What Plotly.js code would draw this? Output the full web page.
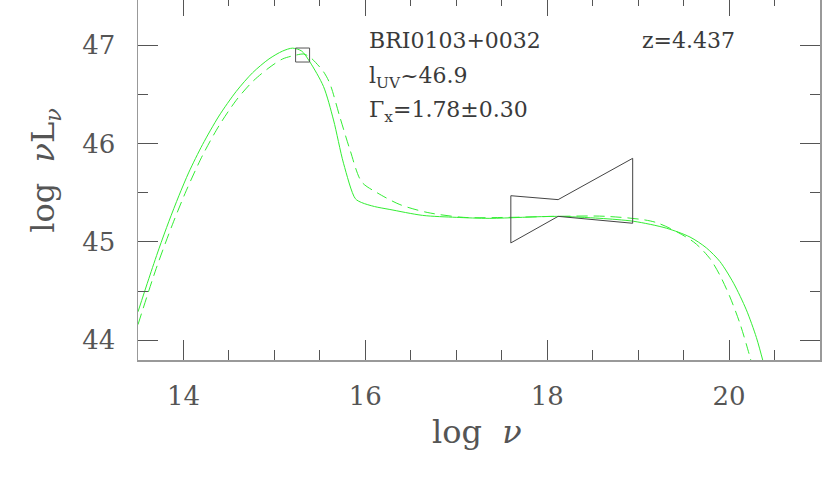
<!DOCTYPE html>
<html><head><meta charset="utf-8">
<script src="https://cdn.plot.ly/plotly-3.0.1.min.js"></script>
<style>html,body{margin:0;padding:0;background:#fff;overflow:hidden}#c{position:absolute;left:0;top:-4px;width:830px;height:502px}</style>
</head><body><div id="c"></div>
<script>
// Solid model SED
const solidX = [13.5, 13.62, 13.73, 13.84, 13.95, 14.06, 14.21, 14.39, 14.58, 14.76, 14.94, 15.09, 15.2, 15.3, 15.39, 15.54, 15.65, 15.76, 15.89, 15.96, 16.1, 16.27, 16.63, 17.0, 17.37, 18.1, 18.58, 18.95, 19.31, 19.57, 19.75, 19.9, 20.05, 20.19, 20.3, 20.37, 20.43];
const solidY = [44.29, 44.63, 44.93, 45.21, 45.47, 45.71, 45.99, 46.28, 46.53, 46.72, 46.86, 46.94, 46.97, 46.94, 46.83, 46.58, 46.24, 45.80, 45.44, 45.40, 45.36, 45.33, 45.27, 45.25, 45.24, 45.26, 45.24, 45.21, 45.14, 45.05, 44.94, 44.80, 44.58, 44.31, 44.03, 43.80, 43.6];
// Dashed model SED
const dashX = [13.5, 13.70, 13.88, 14.03, 14.21, 14.39, 14.58, 14.76, 14.94, 15.09, 15.24, 15.32, 15.39, 15.54, 15.61, 15.72, 15.83, 15.96, 16.13, 16.38, 16.68, 17.08, 17.6, 18.1, 18.65, 19.19, 19.61, 19.79, 19.9, 20.01, 20.12, 20.23, 20.28];
const dashY = [44.16, 44.73, 45.18, 45.52, 45.88, 46.18, 46.44, 46.63, 46.77, 46.86, 46.90, 46.91, 46.88, 46.73, 46.61, 46.27, 45.94, 45.61, 45.50, 45.38, 45.30, 45.25, 45.25, 45.26, 45.26, 45.20, 45.00, 44.83, 44.66, 44.44, 44.17, 43.83, 43.65];
// X-ray bowtie
const bowX = [17.6, 18.12, 18.94, 18.94, 18.12, 17.6, 17.6];
const bowY = [45.47, 45.43, 45.85, 45.19, 45.26, 44.99, 45.47];
// UV point
const uvX = [15.31];
const uvY = [46.90];
// Labels
const labels = [
  {x: 16.02, y: 47.045, t: 'BRI0103+0032'},
  {x: 19.02, y: 47.045, t: 'z=4.437'},
  {x: 16.02, y: 46.67, t: 'l<sub>UV</sub>~46.9'},
  {x: 16.02, y: 46.33, t: 'Γ<sub>x</sub>=1.78±0.30'}
];

const F = 'DejaVu Serif, Liberation Serif, serif';
const green = '#33ee33';
const traces = [
  {x: solidX, y: solidY, mode: 'lines', line: {color: green, width: 1, shape: 'spline', smoothing: 0.8}, hoverinfo: 'skip'},
  {x: dashX, y: dashY, mode: 'lines', line: {color: green, width: 1, dash: '11px,6px', shape: 'spline', smoothing: 0.8}, hoverinfo: 'skip'},
  {x: bowX, y: bowY, mode: 'lines', line: {color: '#444', width: 1}, hoverinfo: 'skip'},
  {x: uvX, y: uvY, mode: 'markers', marker: {symbol: 'square-open', size: 14, color: '#555', line: {width: 1, color: '#555'}}, hoverinfo: 'skip'}
];
const ann = labels.map(l => ({x: l.x, y: l.y, xref: 'x', yref: 'y', text: l.t, showarrow: false, xanchor: 'left', yanchor: 'middle', font: {family: F, size: 22, color: '#3a3a3a'}}));
ann.push({xref: 'paper', yref: 'paper', x: 0.497, y: 0, yshift: -72, text: 'log  <i>ν</i>', showarrow: false, xanchor: 'center', yanchor: 'middle', font: {family: F, size: 32, color: '#555'}});
ann.push({xref: 'paper', yref: 'paper', x: 0, xshift: -93, y: 0.52, text: 'log  <i>ν</i>L<sub><i>ν</i></sub>', textangle: -90, showarrow: false, xanchor: 'center', yanchor: 'middle', font: {family: F, size: 32, color: '#555'}});

const axBase = {showgrid: false, zeroline: false, showline: true, linecolor: '#999', linewidth: 1.5, mirror: 'ticks', ticks: 'inside', ticklen: 20, tickcolor: '#555', tickwidth: 1, tickfont: {family: F, size: 26, color: '#555'}};
const layout = {
  width: 830, height: 502,
  margin: {l: 138, r: 10, t: 0, b: 138},
  paper_bgcolor: '#fff', plot_bgcolor: '#fff',
  showlegend: false,
  xaxis: Object.assign({}, axBase, {range: [13.5, 21], tick0: 14, dtick: 2, ticklabelstandoff: 12,
    minor: {dtick: 0.5, ticks: 'inside', ticklen: 10, tickcolor: '#555', tickwidth: 1}}),
  yaxis: Object.assign({}, axBase, {range: [43.8, 47.5], tick0: 44, dtick: 1, ticklabelstandoff: 16,
    minor: {dtick: 0.5, ticks: 'inside', ticklen: 10, tickcolor: '#555', tickwidth: 1}}),
  annotations: ann
};
Plotly.newPlot('c', traces, layout, {staticPlot: true});
</script></body></html>
